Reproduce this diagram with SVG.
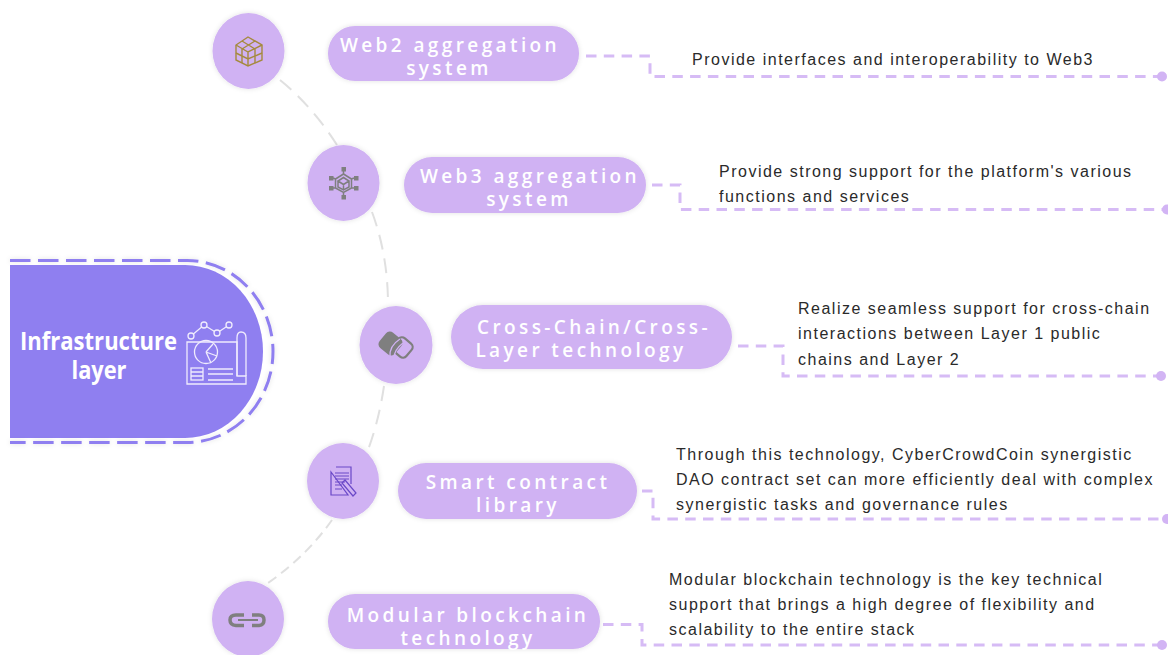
<svg xmlns="http://www.w3.org/2000/svg" width="1168" height="655" viewBox="0 0 1168 655">
<defs>
<filter id="sh" x="-20%" y="-20%" width="140%" height="140%"><feDropShadow dx="0" dy="0" stdDeviation="2.5" flood-color="#000" flood-opacity="0.12"/></filter>
<marker id="dot" markerWidth="12" markerHeight="12" refX="6" refY="6" markerUnits="userSpaceOnUse"><circle cx="6" cy="6" r="5" fill="#d2b4f4"/></marker>
</defs>
<style>
.c{fill:#d0b2f3;filter:url(#sh)}
.p{fill:#d0b2f3;filter:url(#sh)}
.l{font:600 19px "Open Sans",sans-serif;fill:#fff;letter-spacing:3.4px;text-anchor:middle}
.d{font:16px "Liberation Sans",Arial,sans-serif;fill:#2a2a2a;letter-spacing:1.5px}
.a{fill:none;stroke:#e0e0e0;stroke-width:2;stroke-dasharray:15 9}
.k{fill:none;stroke:#d6bbf5;stroke-width:3;stroke-dasharray:10.500 7.300}
.w{fill:none;stroke:#f0ecfd;stroke-width:1.300}
.g{fill:none;stroke:#7f7f7f;stroke-width:1.500}
</style>
<rect width="1168" height="655" fill="#fff"/>
<g id="connectors">
<path class="a" d="M280 80Q312 106 337 145"/>
<path class="a" d="M372 212Q388 255 388 305"/>
<path class="a" d="M384 386Q379 420 368 450"/>
<path class="a" style="stroke-dasharray:10 6" d="M332 520Q305 558 265 585"/>
<path class="k" d="M586 56H650V76.500H1162" marker-end="url(#dot)"/>
<path class="k" d="M652 185H680V209.500H1167" marker-end="url(#dot)"/>
<path class="k" d="M738 346H783V376H1161" marker-end="url(#dot)"/>
<path class="k" d="M642 491H653V519H1167" marker-end="url(#dot)"/>
<path class="k" d="M603 624.500H642V645H1162" marker-end="url(#dot)"/>
</g>
<g id="root">
<path d="M10 265H185A78 86.500 0 0 1 185 438H10Z" fill="#8f7ff0"/>
<path d="M10 260.500H187A86 91 0 0 1 187 442.500H10" fill="none" stroke="#8f7ff0" stroke-width="3" stroke-dasharray="20.500 7.500" filter="url(#sh)"/>
<text x="98.500" y="350" font-family="'Open Sans',sans-serif" font-weight="700" font-size="25" fill="#fff" text-anchor="middle" textLength="157" lengthAdjust="spacingAndGlyphs">Infrastructure</text>
<text x="99" y="379" font-family="'Open Sans',sans-serif" font-weight="700" font-size="25" fill="#fff" text-anchor="middle" textLength="55" lengthAdjust="spacingAndGlyphs">layer</text>
<g class="w">
<path d="M187 342V384H246V376H237V342Z"/>
<path d="M237 376V338Q237 332 241 332Q246 332 246 338V376"/>
<path d="M191 336L204 325L217 333L229 325"/>
<circle cx="191" cy="336" r="3" fill="#8f7ff0"/><circle cx="204" cy="325" r="3" fill="#8f7ff0"/><circle cx="217" cy="333" r="3" fill="#8f7ff0"/><circle cx="229" cy="325" r="3" fill="#8f7ff0"/>
<circle cx="206" cy="352" r="11.500"/>
<path d="M206 352L213 344M206 352L217 356M206 352L211 363"/>
<rect x="191" y="368" width="12" height="12"/><path d="M191 372H203M191 376H203M208 369H233M208 374H233M208 380H233"/>
</g>
</g>
<g id="n1">
<ellipse class="c" cx="248.500" cy="51" rx="36" ry="38"/>
<g fill="none" stroke="#a58a3e" stroke-width="1.400">
<path d="M248 37L262 45V60L248 66L236 60V45Z"/>
<path d="M236 45L248 52L262 45M248 52V66M242 41L255 49M255 41L242 49M236 53L248 59L262 53M242 48V63M255 48V63"/>
</g>
</g>
<g id="n2">
<ellipse class="c" cx="343.500" cy="183" rx="36" ry="38"/>
<path class="g" d="M343.500 174L351.500 179V188L343.500 192.500L335.500 188V179ZM338 181L343.500 184.500L349 181L343.500 177.500ZM338 181V187L343.500 190L349 187V181M343.500 184.500V190M343.500 171V174M343.500 192.500V195M333 178L335.500 179M354 178L351.500 179M333 188L335.500 188M354 188L351.500 188"/>
<g fill="#7f7f7f"><rect x="341.500" y="167" width="4.500" height="4.500"/><rect x="341.500" y="195" width="4.500" height="4.500"/><rect x="329" y="176" width="4.500" height="4.500"/><rect x="354" y="176" width="4.500" height="4.500"/><rect x="329" y="186" width="4.500" height="4.500"/><rect x="354" y="186" width="4.500" height="4.500"/></g>
</g>
<g id="n3">
<ellipse class="c" cx="396" cy="345" rx="36.500" ry="39"/>
<rect x="380.500" y="333.500" width="20" height="20" rx="5" transform="rotate(40 390.500 343.500)" fill="#7f7f7f"/>
<rect x="394" y="339" width="17" height="17" rx="4.500" transform="rotate(40 402.500 347.500)" fill="none" stroke="#7f7f7f" stroke-width="2.200"/>
<path d="M390 357Q389 346 400 339M394 358Q394 350 403 343" fill="none" stroke="#d0b2f3" stroke-width="1.300"/>
</g>
<g id="n4">
<ellipse class="c" cx="343" cy="481" rx="36" ry="38"/>
<g fill="none" stroke="#6a48c8" stroke-width="1.200">
<path d="M336 467H351V484M348 495H331V472Z"/>
<path d="M335 473H349M335 476H349M335 479H349M335 482H345M335 485H342M335 489H342"/>
<path d="M342 483L345 480L356 493L353 496Z"/>
</g>
</g>
<g id="n5">
<ellipse class="c" cx="248" cy="619" rx="36" ry="38"/>
<g fill="none" stroke="#7f7f7f" stroke-width="3.500"><path d="M244 615H236Q230 615 230 620T236 625.500H244"/><path d="M252 615H259Q264 615 264 620T259 625.500H252"/><path d="M238 620H258" stroke-width="2"/></g>
</g>
<g id="p1"><rect class="p" x="328" y="26" width="251" height="55" rx="27"/>
<text class="l" x="450" y="52">Web2 aggregation</text><text class="l" x="449" y="75">system</text></g>
<g id="p2"><rect class="p" x="404" y="157" width="242" height="56" rx="28"/>
<text class="l" x="530" y="183">Web3 aggregation</text><text class="l" x="529" y="206">system</text></g>
<g id="p3"><rect class="p" x="451" y="305" width="281" height="64" rx="32"/>
<text class="l" x="594" y="334">Cross-Chain/Cross-</text><text class="l" x="581" y="357">Layer technology</text></g>
<g id="p4"><rect class="p" x="398" y="463" width="239" height="56" rx="28"/>
<text class="l" x="518" y="489">Smart contract</text><text class="l" x="518" y="512">library</text></g>
<g id="p5"><rect class="p" x="328" y="594" width="272" height="55" rx="27"/>
<text class="l" x="468" y="622">Modular blockchain</text><text class="l" x="468" y="645">technology</text></g>
<g id="t1"><text class="d" x="692" y="65">Provide interfaces and interoperability to Web3</text></g>
<g id="t2"><text class="d" x="719" y="177">Provide strong support for the platform's various</text><text class="d" x="719" y="202">functions and services</text></g>
<g id="t3"><text class="d" x="798" y="314">Realize seamless support for cross-chain</text><text class="d" x="798" y="339">interactions between Layer 1 public</text><text class="d" x="798" y="365">chains and Layer 2</text></g>
<g id="t4"><text class="d" x="676" y="460">Through this technology, CyberCrowdCoin synergistic</text><text class="d" x="676" y="485">DAO contract set can more efficiently deal with complex</text><text class="d" x="676" y="510">synergistic tasks and governance rules</text></g>
<g id="t5"><text class="d" x="669" y="585">Modular blockchain technology is the key technical</text><text class="d" x="669" y="610">support that brings a high degree of flexibility and</text><text class="d" x="669" y="635">scalability to the entire stack</text></g>
</svg>
